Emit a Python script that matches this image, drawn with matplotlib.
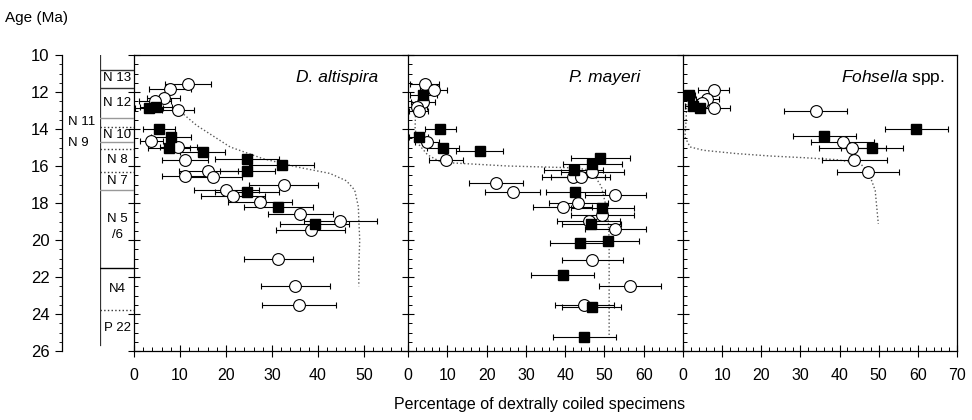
import matplotlib
matplotlib.use("Agg")
import matplotlib.pyplot as plt
from matplotlib.ticker import MultipleLocator

plt.rcParams['font.family'] = ['Liberation Sans', 'DejaVu Sans']
plt.rcParams['mathtext.fontset'] = 'custom'
plt.rcParams['mathtext.it'] = 'Liberation Sans:italic'
plt.rcParams['mathtext.rm'] = 'Liberation Sans'

# ---- data: (percentage, age Ma, half error) ----
# D. altispira
alt_open_x = [11.8, 7.8, 6.5, 4.6, 9.6, 3.7, 9.6, 11.1, 16.2, 11.1, 17.1, 32.6, 20.1, 21.6, 27.4, 36.2, 44.9, 38.4, 31.4, 35.1, 35.9]
alt_open_age = [11.57, 11.83, 12.3, 12.5, 12.95, 14.65, 14.97, 15.7, 16.27, 16.54, 16.6, 17.0, 17.32, 17.6, 17.95, 18.6, 18.95, 19.45, 21.0, 22.47, 23.5]
alt_open_err = [5, 4.5, 3.6, 3.5, 3.5, 2.5, 4, 5, 6.5, 5, 6.5, 7.5, 7, 7, 7, 7, 8, 7.5, 7.5, 7.5, 8]
alt_fill_x = [3.3, 4.7, 5.5, 8.0, 7.6, 14.9, 24.6, 32.1, 24.6, 24.6, 31.4, 39.3]
alt_fill_age = [12.84, 12.8, 14.0, 14.43, 15.0, 15.24, 15.64, 15.97, 16.27, 17.4, 18.23, 19.13]
alt_fill_err = [3, 3.5, 3.5, 4.3, 4.5, 5, 7, 7, 6, 7, 7.5, 7.5]
alt_curve_x = [9.6, 13.6, 20.9, 28.0, 35.4, 42.6, 46.2, 48.0, 48.8, 48.9, 49.1, 48.9, 48.9]
alt_curve_age = [12.95, 13.8, 14.97, 15.6, 16.05, 16.4, 16.8, 17.3, 18.2, 18.9, 20.0, 21.5, 22.5]

# P. mayeri
may_open_x = [4.2, 6.5, 3.8, 2.3, 2.7, 4.8, 9.7, 22.4, 26.7, 42.1, 44.0, 46.9, 52.8, 43.3, 39.4, 49.5, 46.0, 52.8, 46.9, 56.5, 44.9]
may_open_age = [11.57, 11.9, 12.53, 12.8, 13.0, 14.7, 15.7, 16.9, 17.4, 16.6, 16.6, 16.33, 17.55, 17.98, 18.22, 18.66, 18.96, 19.4, 21.1, 22.5, 23.5]
may_open_err = [3.6, 3.5, 3, 2.5, 2.5, 3, 4.3, 6.8, 7, 8, 7.5, 8, 7.8, 7.5, 7.5, 8, 8, 7.8, 7.8, 7.8, 7.5]
may_fill_x = [3.9, 8.2, 2.7, 8.9, 18.2, 48.9, 46.9, 42.2, 42.6, 49.5, 46.7, 43.7, 51.0, 39.4, 46.8, 44.9]
may_fill_age = [12.17, 13.98, 14.43, 15.0, 15.19, 15.57, 15.9, 16.24, 17.38, 18.27, 19.14, 20.16, 20.08, 21.88, 23.63, 25.22]
may_fill_err = [3.5, 4, 2.5, 4, 6, 7.5, 7.5, 7.5, 7.5, 8, 7.5, 7.5, 7.8, 8, 7.5, 8]
may_curve_x = [2.0, 1.8, 2.6, 5.0, 8.5, 16.9, 25.4, 33.9, 42.4, 46.6, 49.2, 50.9, 51.2, 51.2]
may_curve_age = [12.5, 14.0, 14.8, 15.4, 15.8, 15.9, 16.0, 16.05, 16.1, 16.23, 17.1, 18.6, 20.0, 25.3]

# Fohsella spp.
foh_open_x = [7.8, 6.2, 4.8, 8.0, 33.9, 40.8, 43.3, 43.8, 47.2]
foh_open_age = [11.9, 12.39, 12.62, 12.86, 13.0, 14.7, 15.0, 15.7, 16.33]
foh_open_err = [4, 3, 2.5, 4, 8, 8, 8.5, 8.4, 7.9]
foh_fill_x = [1.6, 2.6, 4.4, 36.1, 48.3, 59.6]
foh_fill_age = [12.17, 12.75, 12.86, 14.39, 15.0, 13.98]
foh_fill_err = [1.5, 2, 2.5, 8, 8, 8]
foh_curve_x = [1.0, 0.8, 0.5, 1.8, 5.2, 13.7, 22.3, 30.8, 39.3, 45.3, 47.4, 49.1, 49.9]
foh_curve_age = [12.26, 13.5, 14.43, 14.97, 15.15, 15.33, 15.46, 15.55, 15.66, 15.87, 16.33, 17.32, 19.13]

# planktonic foraminiferal zones
zone_bounds = [10.8, 11.8, 13.4, 13.9, 14.7, 15.1, 16.3, 17.3, 21.5, 23.8]
zone_styles = ['-', '-', '-', ':', '-', ':', ':', '-', '-', ':']
zone_colors = ['0.2', '0.2', '0.6', '0.2', '0.6', '0.2', '0.2', '0.6', '0.0', '0.2']
zone_names = ['N 13', 'N 12', 'N 10', 'N 8', 'N 7', 'N 5\n/6', 'N4', 'P 22']
zone_mid = [11.25, 12.6, 14.3, 15.7, 16.8, 19.3, 22.65, 24.75]
side_names = ['N 11', 'N 9']
side_mid = [13.6, 14.75]

W, H = 972, 420
top, bot = 55, 351


def rect(x0, x1):
    return [x0 / W, 1 - bot / H, (x1 - x0) / W, (bot - top) / H]


fig = plt.figure(figsize=(9.72, 4.2), dpi=100)

panels = [
    (134, 408, 59.6, range(0, 51, 10), 'D. altispira', 0.89,
     (alt_open_x, alt_open_age, alt_open_err), (alt_fill_x, alt_fill_age, alt_fill_err), (alt_curve_x, alt_curve_age)),
    (408, 683, 70, range(0, 61, 10), 'P. mayeri', 0.845,
     (may_open_x, may_open_age, may_open_err), (may_fill_x, may_fill_age, may_fill_err), (may_curve_x, may_curve_age)),
    (683, 957, 70, range(0, 71, 10), r'$\it{Fohsella}$ spp.', 0.955,
     (foh_open_x, foh_open_age, foh_open_err), (foh_fill_x, foh_fill_age, foh_fill_err), (foh_curve_x, foh_curve_age)),
]

for i, (x0, x1, xmax, ticks, title, tx, op, fl, cv) in enumerate(panels):
    ax = fig.add_axes(rect(x0, x1))
    ax.set_xlim(0, xmax)
    ax.set_ylim(26, 10)
    ax.plot(cv[0], cv[1], ls=':', color='0.35', lw=1.0, zorder=1)
    ax.errorbar(op[0], op[1], xerr=op[2], fmt='none', ecolor='black', elinewidth=0.8,
                capsize=2.5, capthick=0.8, zorder=2)
    ax.errorbar(fl[0], fl[1], xerr=fl[2], fmt='none', ecolor='black', elinewidth=0.8,
                capsize=2.5, capthick=0.8, zorder=2)
    ax.plot(op[0], op[1], 'o', ms=8.5, mfc='white', mec='black', mew=0.8, zorder=3, clip_on=False)
    ax.plot(fl[0], fl[1], 's', ms=6.5, mfc='black', mec='black', zorder=4, clip_on=False)
    ax.text(tx, 0.925, title, transform=ax.transAxes, ha='right', va='center',
            fontsize=12.5, style='italic' if i < 2 else 'normal')
    ax.set_xticks(list(ticks))
    ax.xaxis.set_minor_locator(MultipleLocator(2))
    ax.yaxis.set_major_locator(MultipleLocator(2))
    ax.yaxis.set_minor_locator(MultipleLocator(0.5))
    ax.tick_params(axis='x', which='major', direction='inout', length=8, width=0.8, labelsize=11.5, pad=8)
    ax.tick_params(axis='x', which='minor', direction='in', length=3, width=0.7)
    ax.tick_params(axis='y', which='major', direction='inout', length=9, width=0.8, labelleft=False)
    ax.tick_params(axis='y', which='minor', direction='in', length=3, width=0.7)
    for s in ax.spines.values():
        s.set_linewidth(0.9)
    if i < 2:
        ax.spines['right'].set_visible(False)
    ax.set_facecolor('none')

# left age scale
axs = fig.add_axes(rect(62, 63))
axs.set_ylim(26, 10)
axs.set_xticks([])
for k in ['top', 'right', 'bottom']:
    axs.spines[k].set_visible(False)
axs.spines['left'].set_linewidth(0.9)
axs.yaxis.set_major_locator(MultipleLocator(2))
axs.yaxis.set_minor_locator(MultipleLocator(0.5))
axs.tick_params(axis='y', which='major', direction='out', length=5, width=0.8, labelsize=12, pad=4)
axs.tick_params(axis='y', which='minor', direction='out', length=2, width=0.6)

# zone column
axz = fig.add_axes(rect(100, 134))
axz.set_xlim(0, 1)
axz.set_ylim(26, 10)
axz.axis('off')
axz.plot([0, 0], [10, 25.7], color='0.2', lw=0.9)
for b, ls, c in zip(zone_bounds, zone_styles, zone_colors):
    axz.plot([0, 1], [b, b], ls=ls, color=c, lw=1.0)
for name, m in zip(zone_names, zone_mid):
    axz.text(0.5, m, name, ha='center', va='center', fontsize=9.5, linespacing=1.5)
for name, m in zip(side_names, side_mid):
    axz.text(-0.93, m, name, ha='left', va='center', fontsize=9.5, clip_on=False)

fig.text(5 / W, 1 - 18 / H, 'Age (Ma)', ha='left', va='center', fontsize=11)
fig.text(540 / W, 1 - 405 / H, 'Percentage of dextrally coiled specimens', ha='center', va='center', fontsize=11.5)

fig.savefig('out.png', dpi=100)
